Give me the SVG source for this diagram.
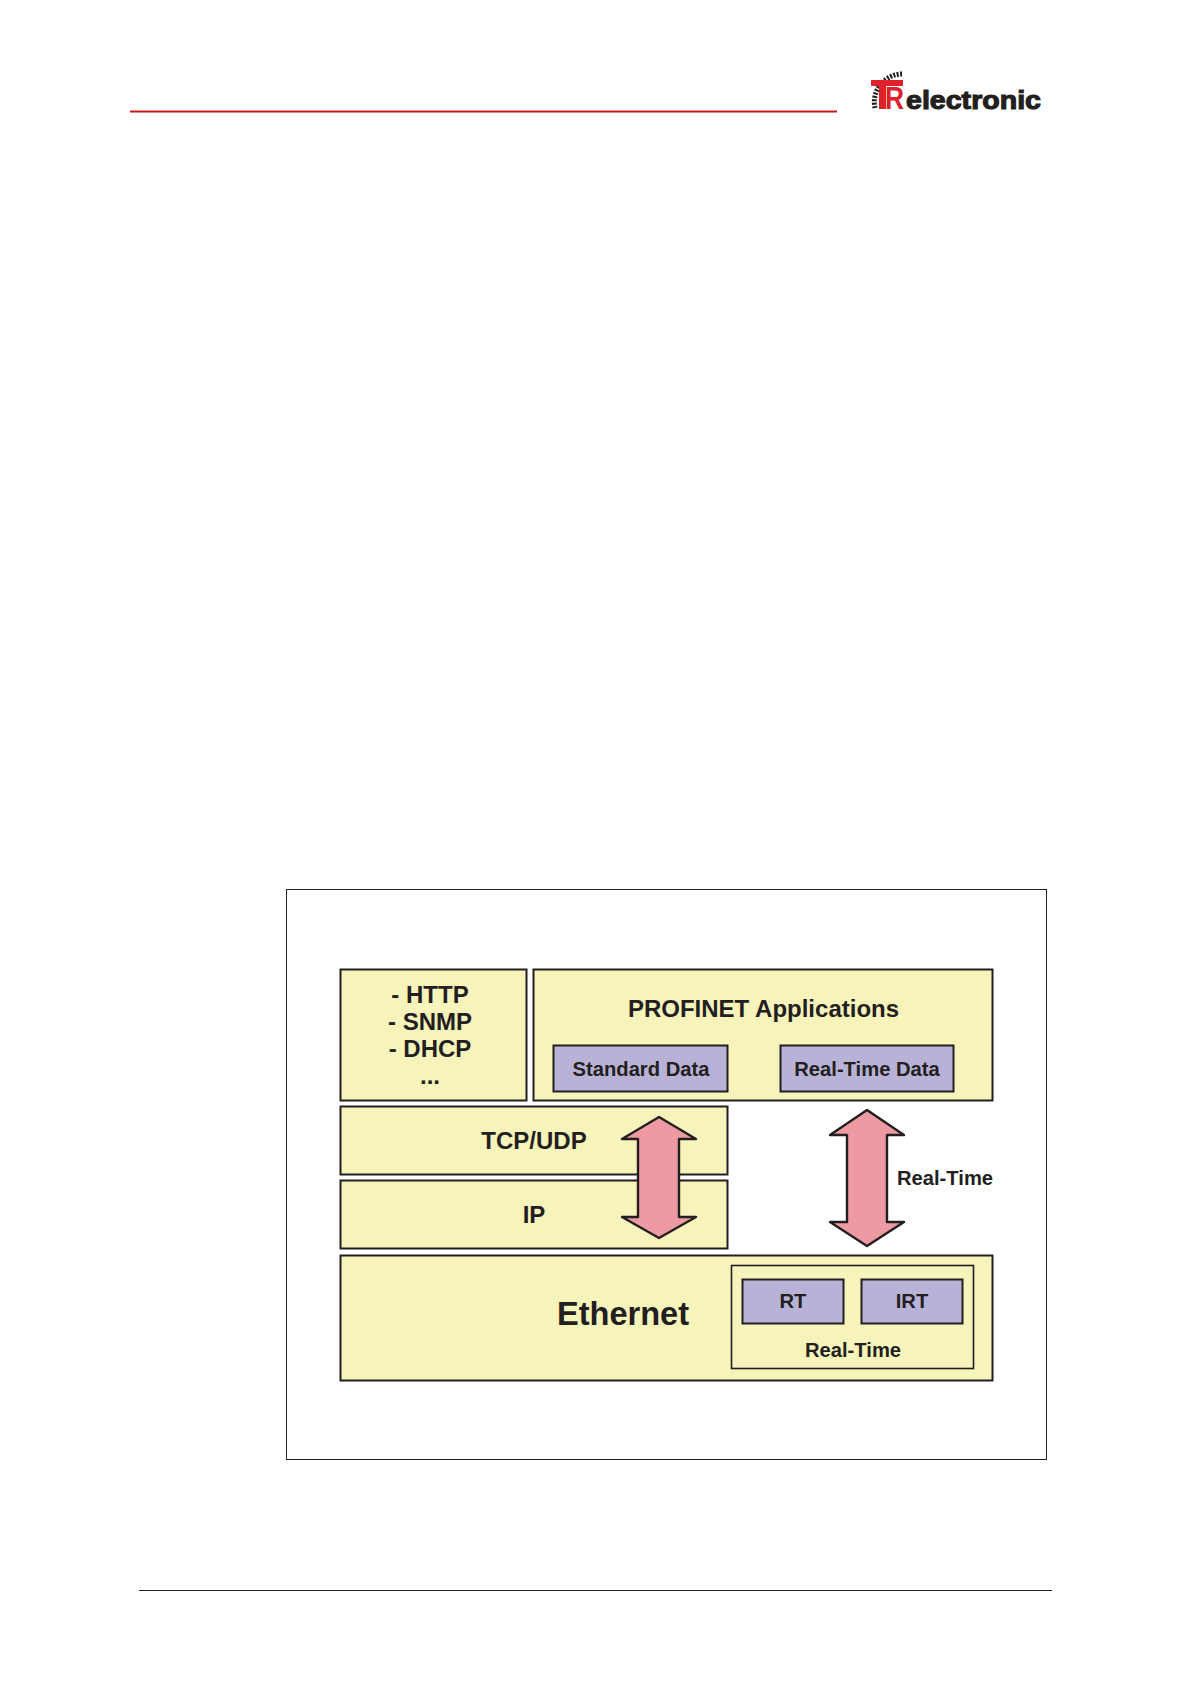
<svg xmlns="http://www.w3.org/2000/svg" width="1191" height="1684" viewBox="0 0 1191 1684">
<style>
text{font-family:"Liberation Sans",Arial,sans-serif;font-weight:bold;fill:#231f20;text-anchor:middle}
.y{fill:#f6f3bb;stroke:#231f20;stroke-width:2}
.p{fill:#b7b2d6;stroke:#231f20;stroke-width:2}
.a{fill:#ee9aa2;stroke:#231f20;stroke-width:2.4;stroke-linejoin:round}
.t24{font-size:24px}
.t21{font-size:20.2px}
</style>
<rect width="1191" height="1684" fill="#fff"/>
<line x1="130" y1="111.5" x2="837" y2="111.5" stroke="#c8161d" stroke-width="2"/>
<line x1="139" y1="1590.5" x2="1052" y2="1590.5" stroke="#231f20" stroke-width="1"/>
<g id="logo">
<path d="M875 108 A28 28 0 0 1 903 74" fill="none" stroke="#231f20" stroke-width="5" stroke-dasharray="2 1.4"/>
<rect x="871" y="80" width="32" height="6" fill="#e0202a"/>
<rect x="879" y="86" width="7" height="23" fill="#e0202a"/>
<text x="885" y="109" style="font-size:32px;fill:#e0202a;text-anchor:start" textLength="19" lengthAdjust="spacingAndGlyphs">R</text>
<text x="906" y="109" style="font-size:26px;text-anchor:start;stroke:#231f20;stroke-width:1.1" textLength="135" lengthAdjust="spacingAndGlyphs">electronic</text>
</g>
<rect id="frame" x="286.5" y="889.5" width="760" height="570" fill="#fff" stroke="#231f20" stroke-width="1"/>
<g id="node-services">
<rect class="y" x="340.5" y="969.5" width="186" height="131"/>
<text class="t24" x="430" y="1003">- HTTP</text>
<text class="t24" x="430" y="1030">- SNMP</text>
<text class="t24" x="430" y="1057">- DHCP</text>
<text class="t24" x="430" y="1084">...</text>
</g>
<g id="node-profinet">
<rect class="y" x="533.5" y="969.5" width="459" height="131"/>
<text class="t24" x="763.5" y="1017">PROFINET Applications</text>
</g>
<g id="node-standard">
<rect class="p" x="553.5" y="1045.5" width="174" height="46"/>
<text class="t21" x="641" y="1076">Standard Data</text>
</g>
<g id="node-realtime-data">
<rect class="p" x="780.5" y="1045.5" width="173" height="46"/>
<text class="t21" x="867" y="1076">Real-Time Data</text>
</g>
<g id="node-tcp">
<rect class="y" x="340.5" y="1106.5" width="387" height="68"/>
<text class="t24" x="534" y="1149">TCP/UDP</text>
</g>
<g id="node-ip">
<rect class="y" x="340.5" y="1180.5" width="387" height="68"/>
<text class="t24" x="534" y="1223">IP</text>
</g>
<g id="node-ethernet">
<rect class="y" x="340.5" y="1255.5" width="652" height="125"/>
<text x="623" y="1325" style="font-size:32.6px">Ethernet</text>
</g>
<g id="node-realtime">
<rect class="y" x="731.5" y="1265.5" width="242" height="103" style="stroke-width:1.6"/>
<text class="t21" x="853" y="1357">Real-Time</text>
</g>
<g id="node-rt">
<rect class="p" x="742.5" y="1279.5" width="101" height="44"/>
<text class="t21" x="793" y="1308">RT</text>
</g>
<g id="node-irt">
<rect class="p" x="861.5" y="1279.5" width="101" height="44"/>
<text class="t21" x="912" y="1308">IRT</text>
</g>
<g id="connectors">
<path class="a" d="M659 1117 L696 1139 H679 V1217 H696 L659 1238 L622 1217 H638 V1139 H622 Z"/>
<path class="a" d="M867 1110 L904 1135 H887 V1222 H904 L867 1246 L830 1222 H847 V1135 H830 Z"/>
<text class="t21" x="945" y="1185">Real-Time</text>
</g>
</svg>
